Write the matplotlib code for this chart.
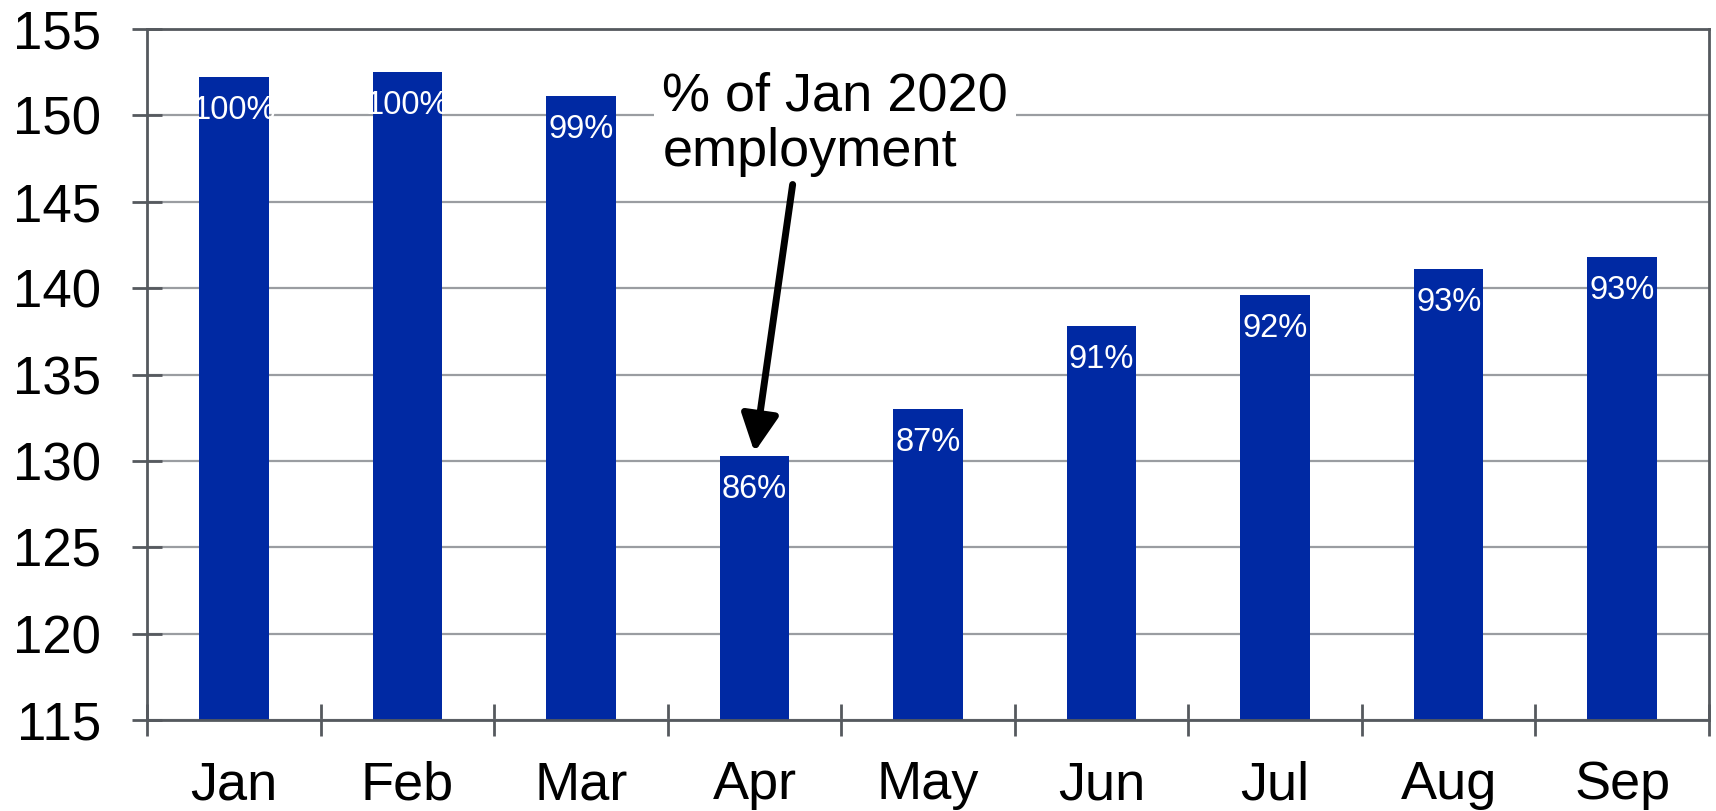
import numpy as np
import matplotlib.pyplot as plt

plt.rcParams['font.family'] = ['Liberation Sans', 'DejaVu Sans']

months = ["Jan", "Feb", "Mar", "Apr", "May", "Jun", "Jul", "Aug", "Sep"]
employment = [152.2, 152.5, 151.1, 130.3, 133.0, 137.8, 139.6, 141.1, 141.8]
pct_labels = ["100%", "100%", "99%", "86%", "87%", "91%", "92%", "93%", "93%"]
yticks = [115, 120, 125, 130, 135, 140, 145, 150, 155]

bar_color = "#0029A3"
axis_color = "#55595e"
grid_color = "#9a9da1"

fig = plt.figure(figsize=(17.16, 8.11), dpi=100)
ax = fig.add_axes([0.0857, 0.1122, 0.9102, 0.8520])

x = np.arange(len(months))
ax.bar(x, employment, width=0.4, color=bar_color, zorder=2)

ax.set_xlim(-0.5, len(months) - 0.5)
ax.set_ylim(115, 155)
ax.set_yticks(yticks)
ax.yaxis.grid(True, color=grid_color, linewidth=1.6, zorder=0)
ax.set_axisbelow(True)

for s in ax.spines.values():
    s.set_color(axis_color)
    s.set_linewidth(2)

ax.set_xticks(x)
ax.set_xticklabels(months)
ax.set_xticks(np.arange(-0.5, len(months)), minor=True)
ax.tick_params(axis='x', which='major', length=0, labelsize=39, pad=29)
ax.tick_params(axis='x', which='minor', direction='inout', length=23,
               width=2, color=axis_color)
ax.tick_params(axis='y', direction='inout', length=22, width=2,
               color=axis_color, labelsize=38, pad=22)

for i, (v, lab) in enumerate(zip(employment, pct_labels)):
    ax.annotate(lab, xy=(i, v), xytext=(0, -24), textcoords='offset points',
                ha='center', va='center', color='white', fontsize=23.5, zorder=3)

ax.text(2.47, 149.5, "% of Jan 2020\nemployment", fontsize=39, ha='left',
        va='center', linespacing=1.15, zorder=4,
        bbox=dict(boxstyle='square,pad=0.15', facecolor='white', edgecolor='none'))
ax.annotate("", xy=(3, 130.5), xytext=(3.22, 146.0),
            arrowprops=dict(arrowstyle='-|>,head_length=0.9,head_width=0.45',
                            lw=5, color='black', mutation_scale=25,
                            shrinkA=0, shrinkB=0), zorder=4)

fig.savefig("out.png", dpi=100)
